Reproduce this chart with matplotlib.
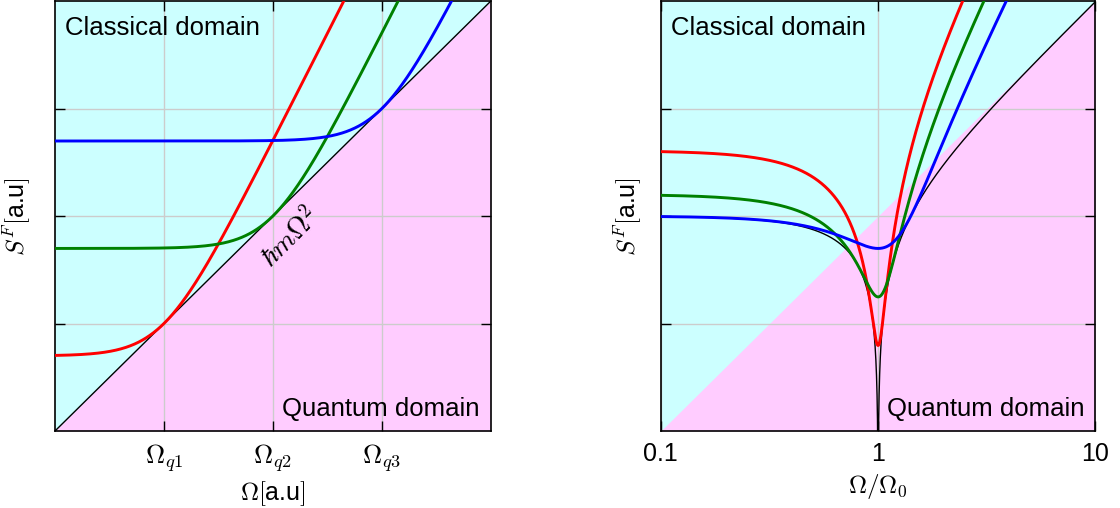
import numpy as np
import matplotlib.pyplot as plt

plt.rcParams['font.family'] = ['Liberation Sans', 'DejaVu Sans']
plt.rcParams['mathtext.fontset'] = 'cm'

# left panel: free mass, touching frequencies (log10 of Omega_q) and labels
omega_q_log = [0.5, 1.0, 1.5]
omega_q_labels = [r'$\Omega_{q1}$', r'$\Omega_{q2}$', r'$\Omega_{q3}$']
left_colors = ['#ff0000', '#008000', '#0000ff']

# right panel: oscillator, back-action levels of each curve
s_ba = [0.0625, 0.177, 0.5]
right_colors = ['#ff0000', '#008000', '#0000ff']
right_ticks = [0.1, 1, 10]
right_ticklabels = ['0.1', '1', '10']

cyan = '#ccffff'
pink = '#ffccff'
gridc = '#cccccc'

fig = plt.figure(figsize=(11.2, 5.08), dpi=100)
ax1 = fig.add_axes([0.0491, 0.1516, 0.389, 0.846])
ax2 = fig.add_axes([0.590, 0.1516, 0.388, 0.846])

# ---- left panel ----
w = np.logspace(0, 2, 800)
ax1.set_facecolor(cyan)
ax1.fill_between(w, 1, w**2, color=pink, lw=0, zorder=0)
ax1.plot(w, w**2, color='k', lw=1.0, zorder=3)
for lq, c in zip(omega_q_log, left_colors):
    wq = 10**lq
    s = wq**2 / 2 + w**4 / (2 * wq**2)
    ax1.plot(w, s, color=c, lw=2.1, zorder=4)
ax1.set_xscale('log')
ax1.set_yscale('log')
ax1.set_xlim(1, 100)
ax1.set_ylim(1, 1e4)
ax1.set_xticks([10**v for v in omega_q_log])
ax1.set_xticklabels(omega_q_labels, fontsize=19)
ax1.set_yticks([10, 100, 1000])
ax1.set_yticklabels([])
ax1.minorticks_off()
ax1.text(10**1.08, 10**1.80, r'$\hbar m\Omega^2$', rotation=45,
         ha='center', va='center', fontsize=20)
ax1.text(0.023, 0.965, 'Classical domain', transform=ax1.transAxes,
         ha='left', va='top', fontsize=18.5)
ax1.text(0.975, 0.035, 'Quantum domain', transform=ax1.transAxes,
         ha='right', va='baseline', fontsize=18.5)
ax1.set_xlabel(r'$\Omega[$a.u$]$', fontsize=18, labelpad=4)
ax1.set_ylabel(r'$S^F[$a.u$]$', fontsize=18, labelpad=8)

# ---- right panel ----
x = np.logspace(-1, 1, 4000)
ax2.set_facecolor(cyan)
ax2.fill_between(x, 1e-2, x**2, color=pink, lw=0, zorder=0)
for a, c in zip(s_ba, right_colors):
    s = a + (1 - x**2)**2 / (4 * a)
    ax2.plot(x, s, color=c, lw=2.1, zorder=4)
ax2.plot(x, np.abs(1 - x**2) + 1e-5, color='k', lw=1.0, zorder=3)
ax2.set_xscale('log')
ax2.set_yscale('log')
ax2.set_xlim(0.1, 10)
ax2.set_ylim(1e-2, 1e2)
ax2.set_xticks(right_ticks)
ax2.set_xticklabels(right_ticklabels, fontsize=18)
ax2.set_yticks([0.1, 1, 10])
ax2.set_yticklabels([])
ax2.minorticks_off()
ax2.text(0.023, 0.965, 'Classical domain', transform=ax2.transAxes,
         ha='left', va='top', fontsize=18.5)
ax2.text(0.975, 0.035, 'Quantum domain', transform=ax2.transAxes,
         ha='right', va='baseline', fontsize=18.5)
ax2.set_xlabel(r'$\Omega/\Omega_0$', fontsize=18, labelpad=4)
ax2.set_ylabel(r'$S^F[$a.u$]$', fontsize=18, labelpad=4)

for ax in (ax1, ax2):
    ax.set_axisbelow(True)
    ax.grid(True, color=gridc, lw=1.0)
    ax.tick_params(direction='in', length=7, width=1, top=True, right=True, pad=8)
    for sp in ax.spines.values():
        sp.set_linewidth(1.2)

fig.savefig('out.png', dpi=100)
